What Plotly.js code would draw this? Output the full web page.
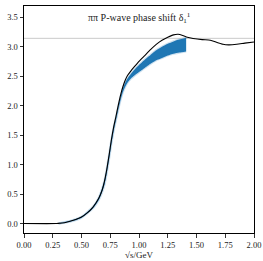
<!DOCTYPE html>
<html><head><meta charset="utf-8">
<script src="https://cdn.plot.ly/plotly-3.0.1.min.js"></script>
<style>html,body{margin:0;padding:0;background:#fff}#chart{width:263px;height:261px}</style>
</head><body><div id="chart"></div>
<script>
// Central phase shift curve (black)
const curveX = [0.00,0.28,0.30,0.35,0.40,0.45,0.50,0.55,0.60,0.65,0.68,0.70,0.72,0.74,0.76,0.78,0.80,0.82,0.84,0.86,0.88,0.90,0.93,0.96,1.00,1.05,1.10,1.15,1.20,1.25,1.30,1.34,1.38,1.42,1.47,1.55,1.62,1.68,1.73,1.78,1.85,1.92,2.00];
const curveY = [0,0,0.003,0.015,0.04,0.07,0.11,0.18,0.28,0.43,0.57,0.72,0.92,1.16,1.42,1.64,1.82,2.01,2.18,2.32,2.43,2.51,2.59,2.66,2.75,2.85,2.95,3.04,3.11,3.16,3.20,3.21,3.19,3.16,3.14,3.12,3.11,3.07,3.04,3.03,3.04,3.06,3.08];
// Uncertainty band (blue)
const bandX = [0.30,0.40,0.50,0.60,0.65,0.70,0.72,0.74,0.76,0.78,0.80,0.82,0.84,0.86,0.88,0.90,0.93,0.96,1.00,1.05,1.10,1.15,1.20,1.25,1.30,1.35,1.41];
const bandUpper = [0.003,0.042,0.115,0.285,0.44,0.73,0.93,1.17,1.42,1.63,1.80,1.98,2.15,2.29,2.39,2.46,2.54,2.61,2.69,2.78,2.86,2.94,3.00,3.05,3.09,3.12,3.15];
const bandLower = [0.0,0.034,0.10,0.26,0.40,0.66,0.86,1.10,1.36,1.58,1.76,1.94,2.10,2.23,2.32,2.39,2.46,2.51,2.57,2.64,2.71,2.77,2.81,2.85,2.88,2.90,2.92];
// Reference line at pi
const piLineX = [0, 2];
const piLineY = [Math.PI, Math.PI];
const xTicks = [0,0.25,0.5,0.75,1.0,1.25,1.5,1.75,2.0];
const yTicks = [0,0.5,1.0,1.5,2.0,2.5,3.0,3.5];

const font = {family: '"Liberation Serif", "DejaVu Serif", serif', color: '#222', size: 9};
const halo = {width: 2.2, color: 'rgba(31,119,180,0.22)', shape: 'spline', smoothing: 0.5};
const traces = [
  {x: piLineX, y: piLineY, mode: 'lines', line: {color: '#c4c4c4', width: 0.9}, hoverinfo: 'skip'},
  {x: bandX, y: bandLower, mode: 'lines', line: halo, hoverinfo: 'skip'},
  {x: bandX, y: bandUpper, mode: 'lines', fill: 'tonexty', fillcolor: '#1f77b4', line: halo, hoverinfo: 'skip'},
  {x: curveX, y: curveY, mode: 'lines', line: {color: '#000', width: 1.1, shape: 'spline', smoothing: 0.6}}
];
const layout = {
  width: 263, height: 261,
  margin: {l: 24, r: 9, t: 6, b: 28},
  showlegend: false,
  paper_bgcolor: '#fff', plot_bgcolor: '#fff',
  font: font,
  xaxis: {range: [0, 2], tickvals: xTicks, tickformat: '.2f', ticks: 'outside', ticklen: 3.5, tickwidth: 0.8, tickcolor: '#000',
    showgrid: false, zeroline: false, showline: true, linecolor: '#000', linewidth: 1, mirror: true,
    tickfont: {size: 8.5}, title: {text: '√s/GeV', font: {size: 9}, standoff: 2}},
  yaxis: {range: [-0.16, 3.69], tickvals: yTicks, tickformat: '.1f', ticks: 'outside', ticklen: 3.5, tickwidth: 0.8, tickcolor: '#000',
    showgrid: false, zeroline: false, showline: true, linecolor: '#000', linewidth: 1, mirror: true,
    tickfont: {size: 8.5}},
  annotations: [{xref: 'paper', yref: 'paper', x: 0.5, y: 0.985, xanchor: 'center', yanchor: 'top', showarrow: false,
    text: 'ππ P-wave phase shift δ<sub>1</sub><sup>1</sup>', font: {size: 10, color: '#222'}}]
};
Plotly.newPlot('chart', traces, layout, {staticPlot: true, displayModeBar: false});
</script></body></html>
